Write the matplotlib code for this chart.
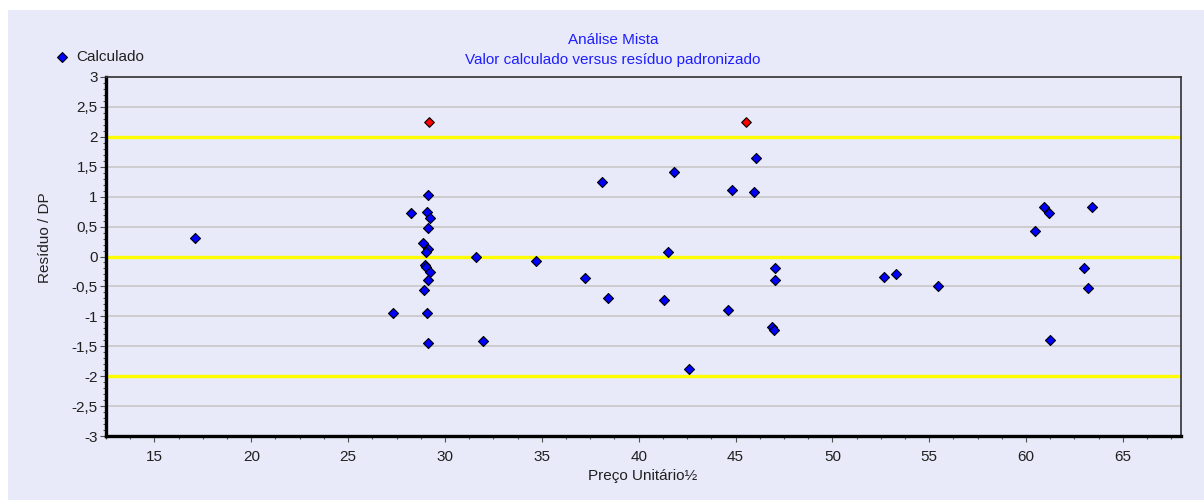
import matplotlib.pyplot as plt
from matplotlib.patches import Rectangle
from matplotlib.ticker import MultipleLocator, FuncFormatter

plt.rcParams['font.family'] = ['Liberation Sans', 'DejaVu Sans']

# data
x_calc = [17.09, 27.33, 28.25, 29.06, 29.23, 29.14, 29.14, 28.88, 29.14, 29.02,
          28.97, 29.04, 29.23, 29.14, 28.92, 29.06, 29.14, 31.59, 31.97, 34.71,
          37.22, 38.11, 38.42, 41.32, 41.53, 41.83, 42.59, 44.59, 44.81, 45.93,
          46.07, 46.86, 46.98, 47.04, 47.04, 52.68, 53.29, 55.43, 60.48, 60.93,
          61.17, 61.24, 63.01, 63.22, 63.39]
y_calc = [0.31, -0.94, 0.72, 0.75, 0.65, 1.03, 0.48, 0.22, 0.12, 0.08,
          -0.14, -0.18, -0.26, -0.39, -0.56, -0.94, -1.45, 0.00, -1.42, -0.08,
          -0.36, 1.25, -0.70, -0.73, 0.07, 1.42, -1.88, -0.89, 1.11, 1.08,
          1.64, -1.17, -1.23, -0.19, -0.39, -0.34, -0.29, -0.50, 0.43, 0.82,
          0.72, -1.40, -0.20, -0.53, 0.82]
# points outside the +-2 band
x_out = [29.19, 45.55]
y_out = [2.24, 2.24]
limits = [-2, 0, 2]

bg = '#E8EAFA'
W, H = 1204, 500
fig = plt.figure(figsize=(12.04, 5), dpi=100, facecolor='white')
fig.patches.append(Rectangle((8 / W, 0), 1 - 8 / W, 1 - 10 / H, transform=fig.transFigure,
                             facecolor=bg, edgecolor='none', zorder=-10))

ax = fig.add_axes([106 / W, 1 - 436 / H, (1181 - 106) / W, (436 - 77) / H])
ax.set_facecolor(bg)
ax.set_xlim(12.5, 68.0)
ax.set_ylim(-3, 3)

# horizontal grid
for v in [-2.5, -1.5, -1, -0.5, 0.5, 1, 1.5, 2.5]:
    ax.axhline(v, color='#C8C8C8', lw=1.2, zorder=1)
for v in limits:
    ax.axhline(v, color='#FFFF00', lw=2.4, zorder=2)

ax.scatter(x_calc, y_calc, marker='D', s=26, color='#0000FF', edgecolor='black',
           linewidth=0.8, zorder=5)
ax.scatter(x_out, y_out, marker='D', s=24, color='#FF0000', edgecolor='black',
           linewidth=0.8, zorder=5)

ax.xaxis.set_major_locator(MultipleLocator(5))
ax.xaxis.set_minor_locator(MultipleLocator(1.25))
ax.yaxis.set_major_locator(MultipleLocator(0.5))
ax.yaxis.set_minor_locator(MultipleLocator(0.1))
fmt = FuncFormatter(lambda v, p: ('%g' % v).replace('.', ','))
ax.yaxis.set_major_formatter(fmt)
ax.tick_params(which='major', length=4, width=0.8, color='#505050', labelsize=11,
               labelcolor='#202020')
ax.tick_params(which='minor', length=2, width=0.8, color='#505050')
ax.tick_params(axis='x', pad=6)
ax.tick_params(axis='y', pad=2)

for s in ['left', 'bottom']:
    ax.spines[s].set_linewidth(2.4)
    ax.spines[s].set_color('black')
for s in ['top', 'right']:
    ax.spines[s].set_linewidth(1.2)
    ax.spines[s].set_color('#303030')

fig.text(643 / W, 1 - 476 / H, 'Preço Unitário½', ha='center', va='center',
         fontsize=11, color='#202020')
fig.text(45 / W, 1 - 238 / H, 'Resíduo / DP', ha='center', va='center',
         rotation=90, fontsize=11, color='#202020')

fig.text(613 / W, 1 - 40 / H, 'Análise Mista', ha='center', va='center',
         fontsize=11, color='#1E1EFF')
fig.text(613 / W, 1 - 60 / H, 'Valor calculado versus resíduo padronizado',
         ha='center', va='center', fontsize=11, color='#1E1EFF')

# legend
fig.add_artist(plt.Line2D([62 / W], [1 - 57 / H], marker='D', markersize=5,
                          color='#0000FF', markeredgecolor='black', markeredgewidth=0.8,
                          transform=fig.transFigure))
fig.text(76 / W, 1 - 57 / H, 'Calculado', ha='left', va='center', fontsize=11,
         color='#202020')

fig.savefig('out.png', dpi=100, facecolor=fig.get_facecolor())
